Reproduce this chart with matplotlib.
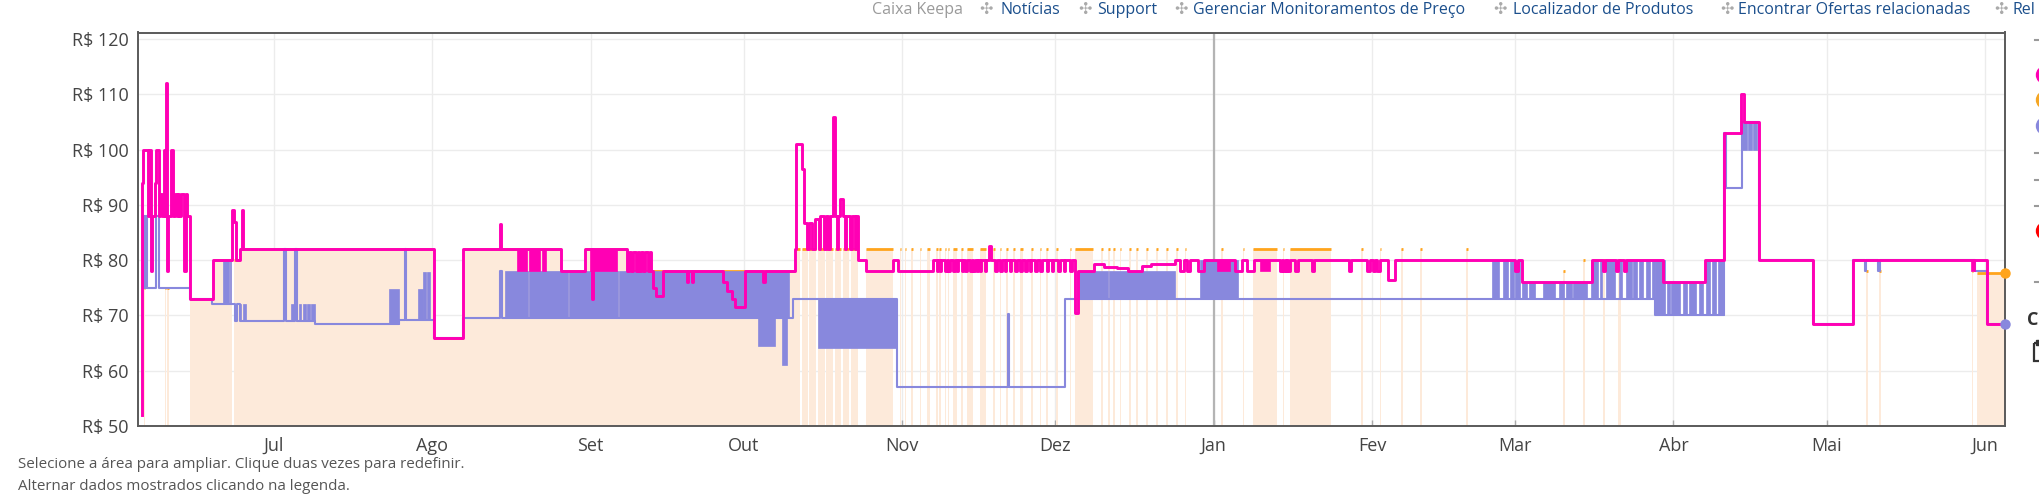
import numpy as np
import pandas as pd
import matplotlib
matplotlib.use("Agg")
import matplotlib.pyplot as plt
import matplotlib.dates as mdates
from matplotlib.patches import Circle, Rectangle

plt.rcParams['font.family'] = ['Open Sans', 'DejaVu Sans']

# ---------------- data (x = days since 1 Jul 2022) ----------------
BASE_DATE = '2022-07-01'
X_START, X_END = -26.6, 338.9

month_labels = ['Jul', 'Ago', 'Set', 'Out', 'Nov', 'Dez', 'Jan', 'Fev', 'Mar', 'Abr', 'Mai', 'Jun']
y_ticks = [50, 60, 70, 80, 90, 100, 110, 120]

# Buy Box (pink) step changes
buybox_days = [-25.9, -25.8, -25.6, -24.6, -24.4, -24.1, -23.9, -23.3, -23.0, -22.5, -22.2, -21.9,
               -21.6, -21.3, -21.15, -20.95, -20.7, -20.1, -19.7, -19.3, -19.0, -18.8, -18.5, -18.2,
               -17.5, -17.3, -17.0, -16.4, -12.0, -8.1, -7.8, -7.5, -6.7, -6.2, -6.0, 31.3, 37.1,
               44.25, 44.45, 56.3, 61.0, 62.2, 62.5, 69.1, 69.6, 73.8, 74.3, 74.9, 76.1, 88.0, 88.8,
               89.6, 90.3, 92.2, 102.0, 102.2, 103.3, 103.8, 104.3, 104.8, 105.4, 106.0, 106.7, 107.0,
               107.6, 108.0, 108.5, 108.8, 109.5, 109.8, 110.2, 110.5, 110.8, 111.35, 111.8, 112.1,
               112.8, 113.1, 113.8, 114.0, 114.4, 115.9, 121.3, 122.1, 129.1, 140.05, 140.3, 156.9,
               157.4, 160.5, 162.5, 165.0, 167.3, 170.0, 171.7, 176.4, 244.3, 258.0, 272.0, 280.2,
               283.8, 287.2, 287.75, 290.8, 301.4, 309.1, 335.3]
buybox_prices = [52, 94, 100, 88, 100, 78, 88, 94, 100, 88, 92, 88,
                 100, 88, 112, 78, 88, 100, 88, 92, 88, 92, 88, 92,
                 78, 92, 88, 73, 80, 89, 87, 80, 82, 89, 82, 66, 82,
                 86.5, 82, 78, 82, 73, 82, 78, 81.5, 78, 75, 73.5, 78, 76, 74.5,
                 73, 71.5, 78, 82, 101, 96.5, 86.7, 82, 86.7, 82, 87.5, 82, 88,
                 82, 88, 82, 88, 106, 88, 82, 88, 91, 88, 82, 88,
                 82, 88, 82, 88, 80, 78, 80, 78, 80, 82.5, 80, 70.5,
                 78, 79.3, 78.8, 78.5, 78, 79, 79.3, 80, 76, 80, 76, 80,
                 103, 110, 105, 80, 68.5, 80, 68.4]

# short Buy Box dips
bb_dip_start = [70.0, 70.9, 71.5, 72.3, 73.3, 80.8, 81.8, 95.8,
                129.8, 130.4, 131.4, 132.0, 133.0, 133.7, 134.7, 135.3, 136.3, 136.9, 137.6, 138.2,
                139.2, 141.2, 142.2, 143.1, 144.1, 145.1, 146.1, 147.1, 148.0, 149.0, 150.0, 151.3,
                152.3, 153.6, 154.6, 155.9,
                177.4, 178.7, 181.0, 188.2, 190.5, 197.0, 197.6, 198.1, 198.6, 199.9, 203.2, 210.4,
                214.0, 215.1, 216.0, 218.2, 243.0, 260.2, 262.8, 264.3]
bb_dip_end = [70.3, 71.2, 71.8, 72.6, 73.6, 81.1, 82.1, 96.1,
              130.1, 130.7, 131.7, 132.3, 133.3, 134.0, 135.0, 135.6, 136.6, 137.2, 137.9, 138.5,
              139.5, 141.5, 142.5, 143.4, 144.4, 145.4, 146.4, 147.4, 148.3, 149.3, 150.3, 151.6,
              152.6, 153.9, 154.9, 156.2,
              178.1, 179.4, 182.0, 189.5, 191.8, 197.3, 197.9, 198.4, 199.0, 200.4, 203.7, 210.9,
              214.5, 215.5, 216.5, 219.5, 243.6, 260.6, 263.2, 264.7]
bb_dip_low = [78, 78, 78, 78, 78, 76, 76, 76,
              78, 78, 78, 78, 78, 78, 78, 78, 78, 78, 78, 78,
              78, 78, 78, 78, 78, 78, 78, 78, 78, 78, 78, 78,
              78, 78, 78, 78,
              78, 78, 78, 78, 78, 78, 78, 78, 78, 78, 78, 78,
              78, 78, 78, 76.5, 78, 78, 78, 78]

# dense Buy Box oscillation blocks
bb_block_start = [47.6, 50.0, 52.5, 61.9, 184.7, 193.1, 332.2]
bb_block_end = [49.6, 52.1, 53.3, 67.1, 187.2, 195.0, 333.0]
bb_block_low = [78, 78, 78, 78, 78, 78, 78]
bb_block_high = [82, 82, 82, 82, 80, 80, 80]

# New price (lavender) step changes
new_days = [-25.7, -25.4, -25.2, -25.1, -24.8, -23.0, -22.5, -16.4, -12.2, -7.6, -7.2, -6.7,
            1.9, 2.3, 4.2, 4.6, 8.0, 24.5, 25.6, 25.9, 31.3, 37.1, 44.3, 44.6, 100.9, 101.7,
            121.9, 143.7, 143.9, 154.9, 270.4, 283.9, 284.3, 287.5, 290.8, 301.4, 309.1, 311.4,
            311.7, 314.1, 314.4, 333.0, 335.3]
new_prices = [75, 88, 75, 88, 75, 88, 75, 73, 72, 69, 72, 69,
              82, 69, 82, 69, 68.5, 69.2, 82, 69.2, 66, 69.5, 78, 69.5, 69.5, 73,
              57, 70.3, 57, 73, 70, 103, 93, 105, 80, 68.5, 80, 78,
              80, 78, 80, 78, 68.4]

# dense New price oscillation blocks
new_block_start = [-9.9, -8.6, -6.6, -6.0,
                   3.4, 4.3, 4.9, 5.7, 6.5, 7.3,
                   22.6, 28.3, 29.1, 30.0,
                   45.3, 49.9, 57.7, 67.5, 94.8, 99.4,
                   106.6, 157.2, 163.5, 181.4,
                   238.4, 240.6, 242.0, 243.0,
                   244.3, 245.8, 248.5, 251.5, 253.0, 254.4,
                   257.8, 259.6, 260.8, 263.4, 264.8, 266.1, 267.3, 268.6, 269.7,
                   270.4,
                   272.7, 273.6, 275.9, 277.1, 278.9,
                   280.4, 281.5, 282.8,
                   287.5, 288.5, 289.5]
new_block_end = [-8.8, -8.3, -6.4, -5.4,
                 4.0, 4.6, 5.4, 6.2, 7.1, 8.0,
                 24.5, 29.1, 29.8, 30.6,
                 49.7, 57.5, 67.3, 100.9, 98.1, 100.5,
                 121.9, 163.3, 176.4, 188.8,
                 239.9, 241.7, 242.7, 244.0,
                 245.3, 246.9, 250.8, 252.5, 254.1, 257.0,
                 259.3, 260.1, 262.5, 263.9, 265.8, 266.8, 268.1, 269.4, 270.4,
                 272.3,
                 273.3, 275.3, 276.7, 278.5, 279.8,
                 281.1, 282.4, 283.9,
                 288.3, 289.3, 290.3]
new_block_low = [72, 72, 69, 69,
                 69, 69, 69, 69, 69, 69,
                 68.5, 69.2, 69.2, 69.2,
                 69.5, 69.5, 69.5, 69.5, 64.5, 61,
                 64.2, 73, 73, 73,
                 73, 73, 73, 73,
                 73, 73, 73, 73, 73, 73,
                 73, 73, 73, 73, 73, 73, 73, 73, 73,
                 70,
                 70, 70, 70, 70, 70,
                 70, 70, 70,
                 100, 100, 100]
new_block_high = [80, 80, 72, 72,
                  72, 72, 72, 72, 72, 72,
                  74.8, 74.8, 77.8, 77.8,
                  78, 78, 78, 78, 69.5, 69.5,
                  73, 78, 78, 80,
                  80, 80, 80, 80,
                  76, 76, 76, 76, 76, 76,
                  80, 80, 80, 80, 80, 80, 80, 80, 80,
                  80,
                  76, 76, 76, 76, 76,
                  80, 80, 80,
                  105, 105, 105]

# Amazon in-stock periods (orange) with price
amz_start = [-25.5, -21.3, -20.9, -16.4, -12.0, -7.9, -6.7, 31.3, 37.1, 56.3, 61.0, 69.1, 73.8,
             102.0, 103.3, 104.8, 106.5, 108.1, 109.8, 111.4, 113.0, 115.9,
             122.5, 123.5, 124.8, 126.4, 127.8, 129.7, 130.3, 131.3, 131.9, 133.0, 134.6, 135.6,
             138.2, 140.8, 142.1, 143.4, 144.7, 146.1, 148.3, 149.9, 151.2, 153.2, 155.8,
             156.9, 162.0, 163.3, 164.3, 165.6, 167.5, 168.8, 170.8, 172.7, 174.7, 176.7, 178.3,
             185.5, 189.7, 191.6, 197.5, 198.9, 212.9, 216.5, 220.7, 224.4, 233.4, 252.4, 256.3,
             260.2, 263.2, 311.7, 314.3, 332.4, 333.4]
amz_end = [-25.3, -21.1, -20.5, -12.0, -8.1, -6.7, 31.3, 37.1, 56.3, 61.0, 69.1, 73.8, 102.0,
           103.0, 104.5, 106.2, 107.8, 109.5, 111.0, 112.6, 114.4, 121.3,
           122.8, 123.8, 125.1, 126.7, 128.5, 130.0, 130.6, 131.6, 132.2, 133.7, 134.9, 136.9,
           139.5, 141.1, 142.4, 143.7, 145.0, 146.7, 148.6, 150.2, 151.5, 153.5, 156.1,
           160.4, 162.3, 163.6, 164.6, 165.9, 167.8, 169.1, 171.1, 173.0, 175.0, 177.0, 178.6,
           185.8, 190.0, 196.3, 197.8, 206.9, 213.2, 216.8, 221.0, 224.7, 233.7, 252.7, 256.6,
           260.5, 263.8, 312.0, 314.6, 332.7, 338.9]
amz_price = [75, 75, 75, 73, 80, 80, 82, 66, 82, 78, 82, 78, 78,
             82, 82, 82, 82, 82, 82, 82, 82, 82,
             82, 82, 82, 82, 82, 82, 82, 82, 82, 82, 82, 82,
             82, 82, 82, 82, 82, 82, 82, 82, 82, 82, 82,
             82, 82, 82, 82, 82, 82, 82, 82, 82, 82, 82, 82,
             82, 82, 82, 82, 82, 82, 82, 82, 82, 82, 78, 80,
             80, 80, 78, 78, 78, 77.6]

# ---------------- styling ----------------
PINK = '#FF00B4'
LAV = '#8888DD'
ORANGE = '#FFA41C'
PEACH = '#FDEADA'

W, H = 2039, 500
fig = plt.figure(figsize=(W / 100, H / 100), dpi=100)
ax = fig.add_axes([138 / W, 74 / H, 1867 / W, 393.5 / H])

base = mdates.date2num(np.datetime64(BASE_DATE))


def X(d):
    return base + np.asarray(d, dtype=float)


def step_series(days, prices, dip_s=(), dip_e=(), dip_l=()):
    days = np.asarray(days, float)
    prices = np.asarray(prices, float)
    pts = list(zip(days, prices))
    for a, b, lo in zip(dip_s, dip_e, dip_l):
        i = np.searchsorted(days, b, side='right') - 1
        pts.append((a, lo))
        pts.append((b, prices[i]))
    pts.sort(key=lambda t: t[0])
    d = np.array([p[0] for p in pts] + [X_END])
    p = np.array([p[1] for p in pts] + [pts[-1][1]])
    return d, p


# Amazon fill + top line
amz_w = np.subtract(amz_end, amz_start)
ax.bar(X(amz_start), amz_price, width=amz_w, bottom=0, align='edge',
       color=PEACH, linewidth=0, zorder=1)
ax.hlines(amz_price, X(amz_start), X(amz_end), color=ORANGE, lw=2.0, zorder=2)

# Jan separator
ax.axvline(X(184), color='#b4b4b4', lw=1.6, zorder=1.5)

# New price
nd, npr = step_series(new_days, new_prices)
ax.bar(X(new_block_start), np.subtract(new_block_high, new_block_low),
       width=np.subtract(new_block_end, new_block_start), bottom=new_block_low,
       align='edge', color=LAV, edgecolor=LAV, linewidth=0.5, zorder=3)
ax.step(X(nd), npr, where='post', color=LAV, lw=1.5, zorder=3.2)

# Buy box
bd, bpr = step_series(buybox_days, buybox_prices, bb_dip_start, bb_dip_end, bb_dip_low)
ax.bar(X(bb_block_start), np.subtract(bb_block_high, bb_block_low),
       width=np.subtract(bb_block_end, bb_block_start), bottom=bb_block_low,
       align='edge', color=PINK, edgecolor=PINK, linewidth=0.5, zorder=4)
ax.step(X(bd), bpr, where='post', color=PINK, lw=2.1, zorder=5)

# end markers
ax.plot([X(X_END)], [amz_price[-1]], 'o', color=ORANGE, ms=6.5, clip_on=False, zorder=6)
ax.plot([X(X_END)], [new_prices[-1]], 'o', color=LAV, ms=6.5, clip_on=False, zorder=6)

# axes
ax.set_xlim(X(X_START), X(X_END))
ax.set_ylim(50, 121.2)
month_ticks = mdates.date2num(pd.date_range('2022-07-01', '2023-06-01', freq='MS').to_pydatetime())
ax.set_xticks(month_ticks)
ax.set_xticklabels(month_labels)
ax.set_yticks(y_ticks)
ax.set_yticklabels([f'R$ {v}' for v in y_ticks])
ax.grid(True, color='#ececec', lw=1.0, zorder=0)
ax.set_axisbelow(True)
ax.tick_params(axis='y', length=0, pad=7, labelsize=13, labelcolor='#444444')
ax.tick_params(axis='x', direction='in', length=4, width=1, color='#aaaaaa', pad=8,
               labelsize=13, labelcolor='#444444')
for s in ax.spines.values():
    s.set_color('#5a5a5a')
    s.set_linewidth(1.4)

# ---------------- surrounding page texts ----------------
ov = fig.add_axes([0, 0, 1, 1], zorder=10)
ov.set_xlim(0, W)
ov.set_ylim(H, 0)
ov.axis('off')

LINK = '#1b4f8c'
top_items = [('Caixa Keepa', 872, '#9a9a9a'), ('\u2723', 979, '#aaaaaa'),
             ('Notícias', 1000, LINK), ('\u2723', 1078, '#aaaaaa'),
             ('Support', 1097, LINK), ('\u2723', 1174, '#aaaaaa'),
             ('Gerenciar Monitoramentos de Preço', 1193, LINK), ('\u2723', 1493, '#aaaaaa'),
             ('Localizador de Produtos', 1513, LINK), ('\u2723', 1720, '#aaaaaa'),
             ('Encontrar Ofertas relacionadas', 1738, LINK), ('\u2723', 1994, '#aaaaaa'),
             ('Rel', 2013, LINK)]
for s, x, c in top_items:
    ov.text(x, 14, s, color=c, fontsize=11.5, ha='left', va='baseline')

ov.text(18, 464, 'Selecione a área para ampliar. Clique duas vezes para redefinir.',
        color='#555555', fontsize=10.9, ha='left', va='center')
ov.text(18, 487, 'Alternar dados mostrados clicando na legenda.',
        color='#555555', fontsize=10.9, ha='left', va='center')

# legend stubs at right edge (clipped by page)
for y, c in [(75, PINK), (100, '#F5A623'), (126, LAV), (231, '#FF0000')]:
    ov.add_patch(Circle((2045, y), 8.5, color=c, clip_on=False))
for y in [40, 153, 180, 206, 282]:
    ov.plot([2035, 2042], [y, y], color='#9a9a9a', lw=1.5)
ov.text(2027, 320, 'C', fontsize=13, fontweight='bold', color='#333333', ha='left', va='center')
ov.add_patch(Rectangle((2034, 343), 12, 18, fill=False, ec='#333333', lw=1.6))
ov.add_patch(Rectangle((2036, 340), 8, 5, fill=True, color='#333333'))

fig.savefig('out.png', dpi=100)
